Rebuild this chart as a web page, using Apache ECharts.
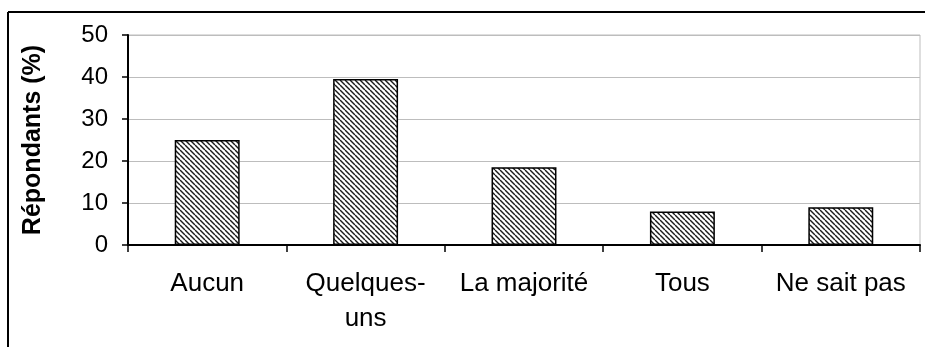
<!DOCTYPE html>
<html>
<head>
<meta charset="utf-8">
<script src="https://cdn.jsdelivr.net/npm/echarts@6/dist/echarts.min.js"></script>
<style>
  html, body { margin: 0; padding: 0; background: #fff; }
  #chart { width: 925px; height: 347px; }
</style>
</head>
<body>
<div id="chart"></div>
<script>
// Survey answers and share of respondents (%)
const categories = ['Aucun', 'Quelques-\nuns', 'La majorité', 'Tous', 'Ne sait pas'];
const respondents = [25, 39.5, 18.5, 8, 9];
const yTicks = { min: 0, max: 50, interval: 10 };
const yAxisTitle = 'Répondants (%)';

// Diagonal hatch fill for the bars
function hatchPattern() {
  const p = 5;
  const c = document.createElement('canvas');
  c.width = p; c.height = p;
  const ctx = c.getContext('2d');
  ctx.fillStyle = '#ffffff';
  ctx.fillRect(0, 0, p, p);
  ctx.strokeStyle = '#1a1a1a';
  ctx.lineWidth = 1.4;
  for (const off of [-p, 0, p]) {
    ctx.beginPath();
    ctx.moveTo(off, 0);
    ctx.lineTo(off + p, p);
    ctx.stroke();
  }
  return c;
}

const chart = echarts.init(document.getElementById('chart'), null, { renderer: 'canvas' });
const font = 'Liberation Sans, Arial, sans-serif';

chart.setOption({
  backgroundColor: '#ffffff',
  animation: false,
  graphic: [
    { type: 'line', shape: { x1: 8, y1: 12, x2: 925, y2: 12 }, style: { stroke: '#000', lineWidth: 2 } },
    { type: 'line', shape: { x1: 8, y1: 12, x2: 8, y2: 347 }, style: { stroke: '#000', lineWidth: 2 } }
  ],
  grid: {
    left: 128, right: 5, top: 35, bottom: 102,
    show: true, borderColor: '#bdbdbd', borderWidth: 1, backgroundColor: 'transparent'
  },
  xAxis: {
    type: 'category',
    data: categories,
    axisLine: { lineStyle: { color: '#000', width: 2 } },
    axisTick: { show: true, alignWithLabel: false, length: 7, lineStyle: { color: '#000', width: 1.5 } },
    axisLabel: {
      color: '#000', fontFamily: font, fontSize: 26, lineHeight: 35, margin: 21, interval: 0
    }
  },
  yAxis: {
    type: 'value',
    min: yTicks.min, max: yTicks.max, interval: yTicks.interval,
    name: yAxisTitle,
    nameLocation: 'middle',
    nameGap: 82,
    nameRotate: 90,
    nameTextStyle: { color: '#000', fontFamily: font, fontSize: 25, fontWeight: 'bold' },
    axisLine: { show: true, lineStyle: { color: '#000', width: 2 } },
    axisTick: { show: true, length: 6, lineStyle: { color: '#000', width: 1.5 } },
    axisLabel: { color: '#000', fontFamily: font, fontSize: 24, margin: 20 },
    splitLine: { show: true, lineStyle: { color: '#bdbdbd', width: 1 } }
  },
  series: [{
    type: 'bar',
    data: respondents,
    barWidth: '41%',
    itemStyle: {
      color: { image: hatchPattern(), repeat: 'repeat' },
      borderColor: '#000',
      borderWidth: 1.5
    }
  }]
});
</script>
</body>
</html>
